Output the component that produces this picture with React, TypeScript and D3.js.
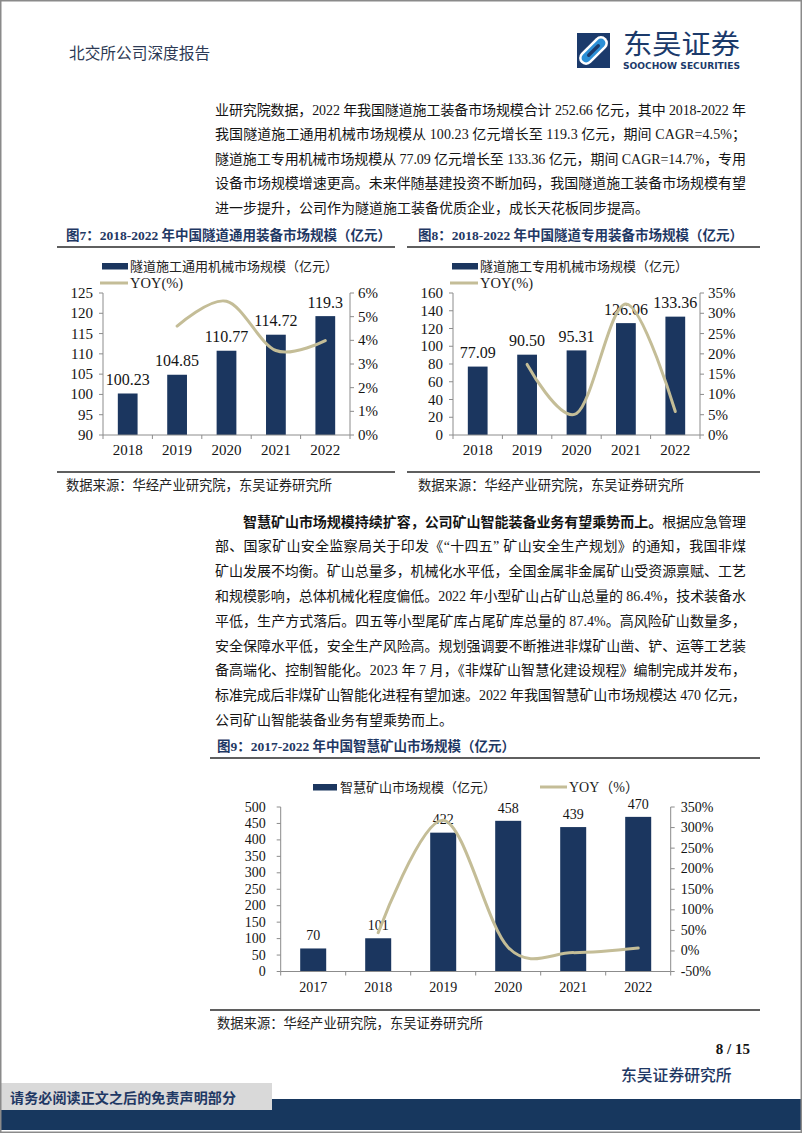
import React from 'react';
import * as d3 from 'd3';

const SERIF = "'Liberation Serif','Times New Roman','Noto Sans CJK SC',serif";
const CJK = "'Noto Sans CJK SC','Noto Sans',sans-serif";
const NAVY = '#1b365f';
const TITLE = '#1f3864';
const TAN = '#c4bd97';
const AXIS = '#8c8c8c';
const INK = '#141414';

// ---------- text ----------
const para1Lines = [
  '业研究院数据，2022 年我国隧道施工装备市场规模合计 252.66 亿元，其中 2018-2022 年',
  '我国隧道施工通用机械市场规模从 100.23 亿元增长至 119.3 亿元，期间 CAGR=4.5%；',
  '隧道施工专用机械市场规模从 77.09 亿元增长至 133.36 亿元，期间 CAGR=14.7%，专用',
  '设备市场规模增速更高。未来伴随基建投资不断加码，我国隧道施工装备市场规模有望',
  '进一步提升，公司作为隧道施工装备优质企业，成长天花板同步提高。',
];
const para2Bold = '智慧矿山市场规模持续扩容，公司矿山智能装备业务有望乘势而上。';
const para2Lines = [
  '根据应急管理',
  '部、国家矿山安全监察局关于印发《“十四五” 矿山安全生产规划》的通知，我国非煤',
  '矿山发展不均衡。矿山总量多，机械化水平低，全国金属非金属矿山受资源禀赋、工艺',
  '和规模影响，总体机械化程度偏低。2022 年小型矿山占矿山总量的 86.4%，技术装备水',
  '平低，生产方式落后。四五等小型尾矿库占尾矿库总量的 87.4%。高风险矿山数量多，',
  '安全保障水平低，安全生产风险高。规划强调要不断推进非煤矿山凿、铲、运等工艺装',
  '备高端化、控制智能化。2023 年 7 月，《非煤矿山智慧化建设规程》编制完成并发布，',
  '标准完成后非煤矿山智能化进程有望加速。2022 年我国智慧矿山市场规模达 470 亿元，',
  '公司矿山智能装备业务有望乘势而上。',
];
const sourceText = '数据来源：华经产业研究院，东吴证券研究所';

// ---------- Fig 7 ----------
const fig7Title = '图7：2018-2022 年中国隧道通用装备市场规模（亿元）';
const fig7Legend = '隧道施工通用机械市场规模（亿元）';
const fig7Years = ['2018', '2019', '2020', '2021', '2022'];
const fig7Values = [100.23, 104.85, 110.77, 114.72, 119.3];
const fig7Labels = ['100.23', '104.85', '110.77', '114.72', '119.3'];
const fig7Yoy = [null, 4.6, 5.65, 3.57, 3.99];
const fig7LeftTicks = [90, 95, 100, 105, 110, 115, 120, 125];
const fig7RightTicks = [0, 1, 2, 3, 4, 5, 6];

// ---------- Fig 8 ----------
const fig8Title = '图8：2018-2022 年中国隧道专用装备市场规模（亿元）';
const fig8Legend = '隧道施工专用机械市场规模（亿元）';
const fig8Years = ['2018', '2019', '2020', '2021', '2022'];
const fig8Values = [77.09, 90.5, 95.31, 126.06, 133.36];
const fig8Labels = ['77.09', '90.50', '95.31', '126.06', '133.36'];
const fig8Yoy = [null, 17.4, 5.3, 32.3, 5.8];
const fig8LeftTicks = [0, 20, 40, 60, 80, 100, 120, 140, 160];
const fig8RightTicks = [0, 5, 10, 15, 20, 25, 30, 35];

// ---------- Fig 9 ----------
const fig9Title = '图9：2017-2022 年中国智慧矿山市场规模（亿元）';
const fig9Legend = '智慧矿山市场规模（亿元）';
const fig9Years = ['2017', '2018', '2019', '2020', '2021', '2022'];
const fig9Values = [70, 101, 422, 458, 439, 470];
const fig9Labels = ['70', '101', '422', '458', '439', '470'];
const fig9Yoy = [null, 44.3, 317.8, 8.5, -4.1, 7.1];
const fig9LeftTicks = [0, 50, 100, 150, 200, 250, 300, 350, 400, 450, 500];
const fig9RightTicks = [-50, 0, 50, 100, 150, 200, 250, 300, 350];

type ComboProps = {
  x0: number; x1: number; yTop: number; yBottom: number;
  years: string[]; values: number[]; labels: string[]; yoy: (number | null)[];
  leftTicks: number[]; rightTicks: number[];
  tickFont: number; valueFont: number; valueGap: number; catY: number;
  leftGap: number; rightGap: number;
};

function Combo(p: ComboProps) {
  const x = d3.scaleBand<string>().domain(p.years).range([p.x0, p.x1]).paddingInner(0.6).paddingOuter(0.3);
  const yL = d3.scaleLinear().domain([p.leftTicks[0], p.leftTicks[p.leftTicks.length - 1]]).range([p.yBottom, p.yTop]);
  const yR = d3.scaleLinear().domain([p.rightTicks[0], p.rightTicks[p.rightTicks.length - 1]]).range([p.yBottom, p.yTop]);
  const cx = (c: string) => (x(c) as number) + x.bandwidth() / 2;
  const pts = p.years.map((c, i) => ({ c, v: p.yoy[i] })).filter((d) => d.v != null) as { c: string; v: number }[];
  const line = d3.line<{ c: string; v: number }>().x((d) => cx(d.c)).y((d) => yR(d.v)).curve(d3.curveCatmullRom.alpha(0));
  const step = x.step();
  const bounds = d3.range(p.years.length + 1).map((i) => p.x0 + i * step);
  return (
    <g>
      {p.years.map((c, i) => (
        <rect key={c} x={x(c)} y={yL(p.values[i])} width={x.bandwidth()} height={p.yBottom - yL(p.values[i])} fill={NAVY} />
      ))}
      <line x1={p.x0} x2={p.x0} y1={p.yTop} y2={p.yBottom} stroke={AXIS} strokeWidth={1} />
      <line x1={p.x1} x2={p.x1} y1={p.yTop} y2={p.yBottom} stroke={AXIS} strokeWidth={1} />
      <line x1={p.x0} x2={p.x1} y1={p.yBottom} y2={p.yBottom} stroke={AXIS} strokeWidth={1} />
      {p.leftTicks.map((t) => (
        <g key={'l' + t}>
          <line x1={p.x0 - 4} x2={p.x0} y1={yL(t)} y2={yL(t)} stroke={AXIS} />
          <text x={p.x0 - p.leftGap} y={yL(t)} textAnchor="end" dominantBaseline="central" fontFamily={SERIF} fontSize={p.tickFont} fill={INK}>{t}</text>
        </g>
      ))}
      {p.rightTicks.map((t) => (
        <g key={'r' + t}>
          <line x1={p.x1} x2={p.x1 + 4} y1={yR(t)} y2={yR(t)} stroke={AXIS} />
          <text x={p.x1 + p.rightGap} y={yR(t)} dominantBaseline="central" fontFamily={SERIF} fontSize={p.tickFont} fill={INK}>{t + '%'}</text>
        </g>
      ))}
      {bounds.map((b, i) => (
        <line key={'b' + i} x1={b} x2={b} y1={p.yBottom} y2={p.yBottom + 4} stroke={AXIS} />
      ))}
      {p.years.map((c) => (
        <text key={'c' + c} x={cx(c)} y={p.catY} textAnchor="middle" dominantBaseline="central" fontFamily={SERIF} fontSize={p.tickFont} fill={INK}>{c}</text>
      ))}
      {p.years.map((c, i) => (
        <text key={'v' + c} x={cx(c)} y={yL(p.values[i]) - p.valueGap} textAnchor="middle" dominantBaseline="central" fontFamily={SERIF} fontSize={p.valueFont} fill={INK}>{p.labels[i]}</text>
      ))}
      <path d={line(pts) || ''} fill="none" stroke={TAN} strokeWidth={3} strokeLinecap="round" />
    </g>
  );
}

function FigTitle({ x, y, x1, x2, text }: { x: number; y: number; x1: number; x2: number; text: string }) {
  return (
    <g>
      <text x={x} y={y} dominantBaseline="central" fontFamily={SERIF} fontWeight="bold" fontSize={13.5} fill={TITLE}>{text}</text>
      <line x1={x1} x2={x2} y1={y + 12} y2={y + 12} stroke="#2a2a2a" strokeWidth={1.3} />
    </g>
  );
}

function Source({ x, y, x1, x2 }: { x: number; y: number; x1: number; x2: number }) {
  return (
    <g>
      <line x1={x1} x2={x2} y1={y - 13} y2={y - 13} stroke="#2a2a2a" strokeWidth={1.3} />
      <text x={x} y={y} dominantBaseline="central" fontFamily={SERIF} fontSize={13.3} fill="#222" textLength={266} lengthAdjust="spacing">{sourceText}</text>
    </g>
  );
}

export default function App() {
  const textL = 215;
  const textR = 746;
  const FS = 14;
  const p1Y = d3.range(para1Lines.length).map((i) => 110 + i * 24.6);
  const p2Y = d3.range(para2Lines.length).map((i) => 521.5 + i * 24.9);
  return (
    <svg width={802} height={1133} style={{ position: 'absolute', left: 0, top: 0, background: '#fff' }}>
      <rect x={0} y={0} width={802} height={1133} fill="#fff" />
      {/* header */}
      <text x={69} y={53} dominantBaseline="central" fontFamily={SERIF} fontSize={15.7} fill="#2d3a55">北交所公司深度报告</text>
      <g>
        <rect x={577} y={33} width={33} height={35} fill="#1b3a6b" />
        <g transform="rotate(-45 593.5 50.5)">
          <rect x={576} y={43.5} width={35} height={14} rx={7} fill="#fff" />
          <rect x={578.5} y={46} width={30} height={9} rx={4.5} fill="#2b8fd6" />
          <rect x={585} y={48.8} width={17} height={3.4} rx={1.7} fill="#1b3a6b" />
        </g>
        <text x={623} y={54} fontFamily={CJK} fontSize={27.5} fill="#1b3a6b" textLength={117} lengthAdjust="spacingAndGlyphs">东吴证券</text>
        <text x={623} y={68.5} fontFamily="'DejaVu Sans','Noto Sans',sans-serif" fontWeight="bold" fontSize={8.8} fill="#1b3a6b" textLength={117} lengthAdjust="spacingAndGlyphs">SOOCHOW SECURITIES</text>
      </g>

      {/* paragraph 1 */}
      {para1Lines.map((t, i) => (
        <text key={'p1' + i} x={textL} y={p1Y[i]} dominantBaseline="central" fontFamily={SERIF} fontSize={FS} fill={INK}
          {...(i < para1Lines.length - 1 ? { textLength: textR - textL, lengthAdjust: 'spacing' } : {})}>{t}</text>
      ))}

      {/* Fig 7 */}
      <FigTitle x={66} y={235} x1={57} x2={395} text={fig7Title} />
      <rect x={102} y={263} width={26} height={6.5} fill={NAVY} />
      <text x={130} y={266.5} dominantBaseline="central" fontFamily={SERIF} fontSize={13} fill="#222" textLength={208} lengthAdjust="spacing">{fig7Legend}</text>
      <line x1={100} x2={128} y1={283} y2={283} stroke={TAN} strokeWidth={3} />
      <text x={130} y={283} dominantBaseline="central" fontFamily={SERIF} fontSize={14.5} fill="#222">YOY(%)</text>
      <Combo x0={103} x1={350} yTop={293} yBottom={435} years={fig7Years} values={fig7Values} labels={fig7Labels} yoy={fig7Yoy}
        leftTicks={fig7LeftTicks} rightTicks={fig7RightTicks} tickFont={15} valueFont={16} valueGap={14} catY={450} leftGap={10} rightGap={8} />
      <Source x={66} y={485} x1={57} x2={395} />

      {/* Fig 8 */}
      <FigTitle x={418} y={235} x1={407} x2={760} text={fig8Title} />
      <rect x={452} y={263} width={26} height={6.5} fill={NAVY} />
      <text x={480} y={266.5} dominantBaseline="central" fontFamily={SERIF} fontSize={13} fill="#222" textLength={208} lengthAdjust="spacing">{fig8Legend}</text>
      <line x1={450} x2={478} y1={283} y2={283} stroke={TAN} strokeWidth={3} />
      <text x={480} y={283} dominantBaseline="central" fontFamily={SERIF} fontSize={14.5} fill="#222">YOY(%)</text>
      <Combo x0={453} x1={700} yTop={293} yBottom={435} years={fig8Years} values={fig8Values} labels={fig8Labels} yoy={fig8Yoy}
        leftTicks={fig8LeftTicks} rightTicks={fig8RightTicks} tickFont={15} valueFont={16} valueGap={14} catY={450} leftGap={10} rightGap={8} />
      <Source x={418} y={485} x1={407} x2={760} />

      {/* paragraph 2 */}
      <text x={243} y={p2Y[0]} dominantBaseline="central" fontFamily={SERIF} fontSize={FS} fill={INK} textLength={textR - 243} lengthAdjust="spacing">
        <tspan fontWeight="bold">{para2Bold}</tspan>
        <tspan>{para2Lines[0]}</tspan>
      </text>
      {para2Lines.slice(1).map((t, i) => (
        <text key={'p2' + i} x={textL} y={p2Y[i + 1]} dominantBaseline="central" fontFamily={SERIF} fontSize={FS} fill={INK}
          {...(i + 1 < para2Lines.length - 1 ? { textLength: textR - textL, lengthAdjust: 'spacing' } : {})}>{t}</text>
      ))}

      {/* Fig 9 */}
      <FigTitle x={217} y={746} x1={210} x2={760} text={fig9Title} />
      <rect x={313} y={784} width={24} height={6.5} fill={NAVY} />
      <text x={340} y={787} dominantBaseline="central" fontFamily={SERIF} fontSize={13} fill="#222" textLength={156} lengthAdjust="spacing">{fig9Legend}</text>
      <line x1={540} x2={567} y1={787} y2={787} stroke={TAN} strokeWidth={3} />
      <text x={569} y={787} dominantBaseline="central" fontFamily={SERIF} fontSize={14} fill="#222">YOY（%）</text>
      <Combo x0={280.7} x1={670.7} yTop={807} yBottom={971.5} years={fig9Years} values={fig9Values} labels={fig9Labels} yoy={fig9Yoy}
        leftTicks={fig9LeftTicks} rightTicks={fig9RightTicks} tickFont={14} valueFont={14} valueGap={12.7} catY={987} leftGap={15} rightGap={10} />
      <Source x={217} y={1023} x1={210} x2={760} />

      {/* footer */}
      <text x={750} y={1049} textAnchor="end" dominantBaseline="central" fontFamily={SERIF} fontWeight="bold" fontSize={15} fill={INK}>8 / 15</text>
      <text x={621} y={1074} dominantBaseline="central" fontFamily={CJK} fontWeight={500} fontSize={15.8} fill={TITLE}>东吴证券研究所</text>
      <rect x={0} y={1099} width={802} height={31} fill="#17375e" />
      <rect x={0} y={1083} width={272} height={27} fill="#d9d9d9" />
      <text x={10} y={1097} dominantBaseline="central" fontFamily={CJK} fontWeight="bold" fontSize={14} fill={TITLE} textLength={226} lengthAdjust="spacing">请务必阅读正文之后的免责声明部分</text>
      <rect x={0.75} y={0.75} width={800.5} height={1131.5} fill="none" stroke="#8a8a8a" strokeWidth={1.5} />
    </svg>
  );
}
